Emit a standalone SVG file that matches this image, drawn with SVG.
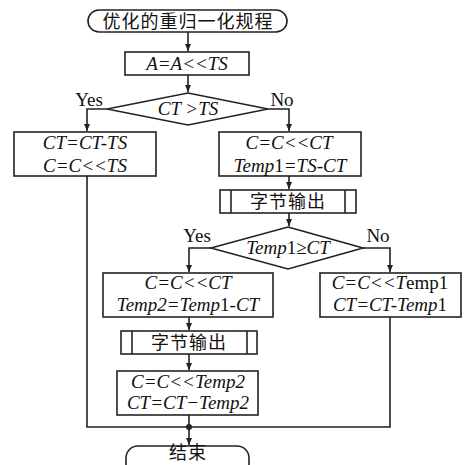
<svg xmlns="http://www.w3.org/2000/svg" width="467" height="465" viewBox="0 0 467 465">
<defs>
<marker id="ah" markerWidth="8" markerHeight="8" refX="7" refY="4" orient="auto" markerUnits="userSpaceOnUse">
<path d="M0,1 L7,4 L0,7 Z" fill="#222"/>
</marker>
<style>
.s{fill:#fff;stroke:#222;stroke-width:1.6}
.c{fill:none;stroke:#222;stroke-width:1.6}
.t{font-family:"Liberation Serif","Noto Sans CJK SC",serif;font-size:19px;fill:#111;text-anchor:middle;font-style:italic}
.u{font-style:normal}
.z{font-family:"Noto Sans CJK SC","Liberation Serif",sans-serif;font-size:18px;fill:#111;text-anchor:middle;letter-spacing:1px}
.l{font-family:"Liberation Serif",serif;font-size:19px;fill:#111;text-anchor:middle}
</style>
</defs>
<rect width="467" height="465" fill="#fff"/>
<g id="connectors">
<line class="c" x1="188" y1="32" x2="188" y2="51" marker-end="url(#ah)"/>
<line class="c" x1="188" y1="75" x2="188" y2="92" marker-end="url(#ah)"/>
<polyline class="c" points="107,109 87,109 87,131" marker-end="url(#ah)"/>
<polyline class="c" points="268,109 289,109 289,131" marker-end="url(#ah)"/>
<line class="c" x1="289" y1="176" x2="289" y2="189" marker-end="url(#ah)"/>
<line class="c" x1="289" y1="213" x2="289" y2="226" marker-end="url(#ah)"/>
<polyline class="c" points="211,248 189,248 189,272" marker-end="url(#ah)"/>
<polyline class="c" points="363,248 390,248 390,272" marker-end="url(#ah)"/>
<line class="c" x1="189" y1="317" x2="189" y2="330" marker-end="url(#ah)"/>
<line class="c" x1="189" y1="354" x2="189" y2="370" marker-end="url(#ah)"/>
<line class="c" x1="189" y1="415" x2="189" y2="427"/>
<polyline class="c" points="87,176 87,427 390,427 390,317"/>
<circle cx="189" cy="427" r="3" fill="#222"/>
<line class="c" x1="189" y1="427" x2="189" y2="445" marker-end="url(#ah)"/>
</g>
<g id="start">
<rect class="s" x="88" y="10" width="199" height="22" rx="11"/>
<text class="z" x="188" y="28">优化的重归一化规程</text>
</g>
<g id="shift">
<rect class="s" x="125" y="52" width="124" height="23"/>
<text class="t" x="187" y="70">A=A&lt;&lt;TS</text>
</g>
<g id="dec1">
<polygon class="s" points="188,93 268,109 188,125 107,109"/>
<text class="t" x="188" y="115">CT &gt;TS</text>
<text class="l" x="89" y="106">Yes</text>
<text class="l" x="282" y="106">No</text>
</g>
<g id="leftbox">
<rect class="s" x="14" y="132" width="142" height="44"/>
<text class="t" x="85" y="149">CT=CT-TS</text>
<text class="t" x="85" y="172">C=C&lt;&lt;TS</text>
</g>
<g id="rightbox">
<rect class="s" x="219" y="132" width="142" height="44"/>
<text class="t" x="289" y="149">C=C&lt;&lt;CT</text>
<text class="t" x="290" y="172">Temp<tspan class="u">1</tspan>=TS-CT</text>
</g>
<g id="out1">
<rect class="s" x="220" y="190" width="136" height="23"/>
<line class="c" x1="231" y1="190" x2="231" y2="213"/>
<line class="c" x1="345" y1="190" x2="345" y2="213"/>
<text class="z" x="288" y="208">字节输出</text>
</g>
<g id="dec2">
<polygon class="s" points="288,227 363,248 288,269 211,248"/>
<text class="t" x="288" y="254">Temp<tspan class="u">1≥</tspan>CT</text>
<text class="l" x="197" y="242">Yes</text>
<text class="l" x="378" y="242">No</text>
</g>
<g id="box3l">
<rect class="s" x="103" y="273" width="170" height="44"/>
<text class="t" x="188" y="289">C=C&lt;&lt;CT</text>
<text class="t" x="188" y="311">Temp2=Temp<tspan class="u">1</tspan>-CT</text>
</g>
<g id="box3r">
<rect class="s" x="320" y="273" width="141" height="44"/>
<text class="t" x="390" y="289">C=C&lt;&lt;T<tspan class="u">emp1</tspan></text>
<text class="t" x="390" y="311">CT=CT-Temp<tspan class="u">1</tspan></text>
</g>
<g id="out2">
<rect class="s" x="121" y="331" width="136" height="23"/>
<line class="c" x1="132" y1="331" x2="132" y2="354"/>
<line class="c" x1="247" y1="331" x2="247" y2="354"/>
<text class="z" x="189" y="349">字节输出</text>
</g>
<g id="box4">
<rect class="s" x="117" y="371" width="141" height="44"/>
<text class="t" x="188" y="388">C=C&lt;&lt;Temp2</text>
<text class="t" x="188" y="409">CT=CT−Temp2</text>
</g>
<g id="end">
<rect class="s" x="126" y="446" width="123" height="30" rx="12"/>
<text class="z" x="188" y="459" font-size="15">结束</text>
</g>
</svg>
